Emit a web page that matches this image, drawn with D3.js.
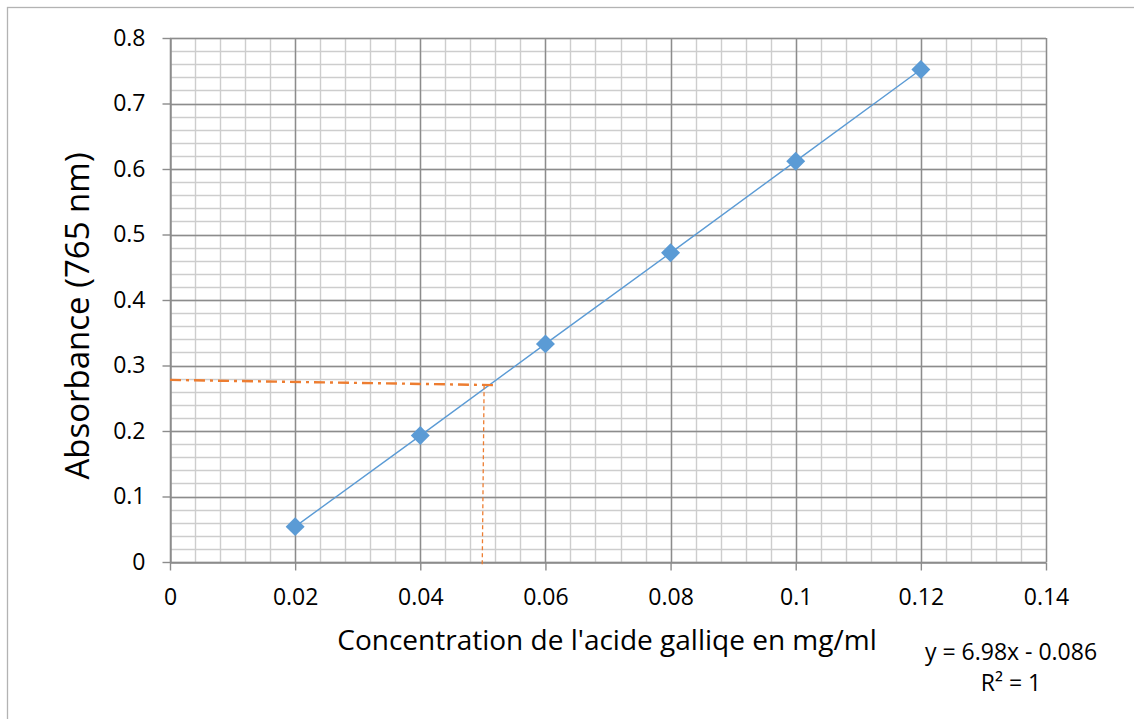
<!DOCTYPE html>
<html>
<head>
<meta charset="utf-8">
<script src="https://cdn.jsdelivr.net/npm/d3@7"></script>
<style>
  html, body { margin: 0; padding: 0; background: #fff; }
  svg { display: block; font-family: "Open Sans", "Noto Sans", sans-serif; }
</style>
</head>
<body>
<svg id="chart" width="1134" height="719"></svg>
<script>
// ---- data ----
const concentration = [0.02, 0.04, 0.06, 0.08, 0.10, 0.12];
const absorbance = [0.054, 0.193, 0.333, 0.472, 0.612, 0.752];
const xTicks = [0, 0.02, 0.04, 0.06, 0.08, 0.10, 0.12, 0.14];
const xTickLabels = ["0", "0.02", "0.04", "0.06", "0.08", "0.1", "0.12", "0.14"];
const yTicks = [0, 0.1, 0.2, 0.3, 0.4, 0.5, 0.6, 0.7, 0.8];
const yTickLabels = ["0", "0.1", "0.2", "0.3", "0.4", "0.5", "0.6", "0.7", "0.8"];
const xMinorStep = 0.004;
const yMinorStep = 0.02;
// reading guide lines (orange)
const guideHX = [0, 0.0523];
const guideHY = [0.278, 0.270];
const guideVX = [0.0502, 0.0499];
const guideVY = [0.270, -0.005];
const xTitle = "Concentration de l'acide galliqe en mg/ml";
const yTitle = "Absorbance (765 nm)";
const equationLines = ["y = 6.98x - 0.086", "R² = 1"];

// ---- layout ----
const svg = d3.select("#chart");
const x = d3.scaleLinear().domain([0, 0.14]).range([170, 1046]);
const y = d3.scaleLinear().domain([0, 0.8]).range([562, 38]);

// outer border
svg.append("rect").attr("x", 7.5).attr("y", 7.5).attr("width", 1140).attr("height", 730)
  .attr("fill", "none").attr("stroke", "#b3b3b3").attr("stroke-width", 1.3);

// minor grid
const xMinor = d3.range(0, 0.14 + 1e-9, xMinorStep);
const yMinor = d3.range(0, 0.8 + 1e-9, yMinorStep);
const grid = svg.append("g");
grid.selectAll(".xminor").data(xMinor).join("line")
  .attr("x1", d => Math.round(x(d)) + 0.5).attr("x2", d => Math.round(x(d)) + 0.5)
  .attr("y1", y(0.8)).attr("y2", y(0))
  .attr("stroke", "#cdcdcd").attr("stroke-width", 1.4);
grid.selectAll(".yminor").data(yMinor).join("line")
  .attr("y1", d => Math.round(y(d)) + 0.5).attr("y2", d => Math.round(y(d)) + 0.5)
  .attr("x1", x(0)).attr("x2", x(0.14))
  .attr("stroke", "#cdcdcd").attr("stroke-width", 1.4);
// major grid
grid.selectAll(".xmajor").data(xTicks).join("line")
  .attr("x1", d => Math.round(x(d)) + 0.5).attr("x2", d => Math.round(x(d)) + 0.5)
  .attr("y1", y(0.8)).attr("y2", y(0))
  .attr("stroke", "#8c8c8c").attr("stroke-width", 1.4);
grid.selectAll(".ymajor").data(yTicks).join("line")
  .attr("y1", d => Math.round(y(d)) + 0.5).attr("y2", d => Math.round(y(d)) + 0.5)
  .attr("x1", x(0)).attr("x2", x(0.14))
  .attr("stroke", "#8c8c8c").attr("stroke-width", 1.4);

// axes
const xAxis = d3.axisBottom(x).tickValues(xTicks)
  .tickFormat((d, i) => xTickLabels[i]).tickSize(8).tickSizeOuter(0).tickPadding(18);
const yAxis = d3.axisLeft(y).tickValues(yTicks)
  .tickFormat((d, i) => yTickLabels[i]).tickSize(8).tickSizeOuter(0).tickPadding(17);
const gx = svg.append("g").attr("transform", `translate(0,${Math.round(y(0)) + 0.5})`).call(xAxis);
const gy = svg.append("g").attr("transform", `translate(${Math.round(x(0)) + 0.5},0)`).call(yAxis);
[gx, gy].forEach(g => {
  g.select(".domain").attr("stroke", "#8c8c8c").attr("stroke-width", 1.4);
  g.selectAll(".tick line").attr("stroke", "#8c8c8c").attr("stroke-width", 1.4);
  g.selectAll(".tick text").attr("fill", "#000").style("font-size", "23px")
    .style("font-family", "'Open Sans', sans-serif");
});

// series line
const pts = concentration.map((c, i) => [c, absorbance[i]]);
svg.append("path").datum(pts)
  .attr("d", d3.line().x(d => x(d[0])).y(d => y(d[1])))
  .attr("fill", "none").attr("stroke", "#5b9bd5").attr("stroke-width", 1.4);

// orange guides
svg.append("path").datum(guideHX.map((v, i) => [v, guideHY[i]]))
  .attr("d", d3.line().x(d => x(d[0])).y(d => y(d[1])))
  .attr("fill", "none").attr("stroke", "#ed7d31").attr("stroke-width", 2.4)
  .attr("stroke-dasharray", "11,5,3,5");
svg.append("path").datum(guideVX.map((v, i) => [v, guideVY[i]]))
  .attr("d", d3.line().x(d => x(d[0])).y(d => y(d[1])))
  .attr("fill", "none").attr("stroke", "#ed7d31").attr("stroke-width", 1.3)
  .attr("stroke-dasharray", "4,3");

// markers
svg.selectAll(".pt").data(pts).join("path")
  .attr("d", d3.symbol().type(d3.symbolSquare).size(180))
  .attr("transform", d => `translate(${x(d[0])},${y(d[1])}) rotate(45)`)
  .attr("fill", "#5b9bd5");

// titles
svg.append("text").attr("x", 607).attr("y", 650).attr("text-anchor", "middle")
  .style("font-size", "28px").attr("fill", "#000").text(xTitle);
svg.append("text").attr("transform", "translate(89,316) rotate(-90)").attr("text-anchor", "middle")
  .style("font-size", "33px").attr("fill", "#000").text(yTitle);

// equation
svg.selectAll(".eq").data(equationLines).join("text")
  .attr("x", 1011).attr("y", (d, i) => 660 + i * 31).attr("text-anchor", "middle")
  .style("font-size", "23px").attr("fill", "#000").text(d => d);
</script>
</body>
</html>
